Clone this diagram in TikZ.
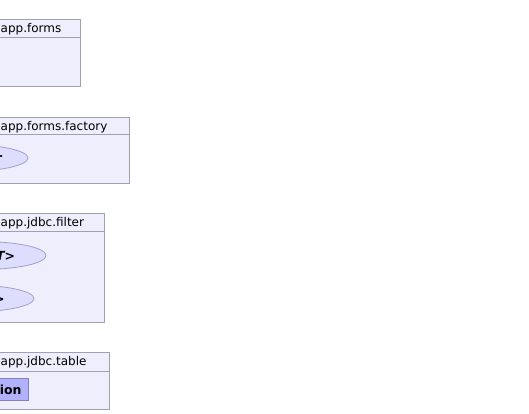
\documentclass[tikz,border=0pt]{standalone}
\usepackage{fontspec}
\setmainfont{DejaVu Sans}
\usetikzlibrary{shapes.geometric}
\definecolor{pkgfill}{RGB}{238,238,252}
\definecolor{pkgline}{RGB}{160,160,176}
\definecolor{usefill}{RGB}{221,221,253}
\definecolor{useline}{RGB}{160,160,200}
\definecolor{clsfill}{RGB}{178,178,252}
\definecolor{clsline}{RGB}{128,128,190}

\begin{document}
\begin{tikzpicture}[x=1pt,y=-1pt,
	pkg/.style={draw=pkgline,fill=pkgfill,line width=0.8pt,minimum width=240pt,anchor=north east,inner sep=0pt},
	pkgtitle/.style={anchor=base west,inner sep=0pt,font=\fontsize{12}{14}\selectfont},
	iface/.style={ellipse,draw=useline,fill=usefill,line width=0.8pt,inner sep=0pt,font=\bfseries\fontsize{12.5}{14}\selectfont},
	cls/.style={draw=clsline,fill=clsfill,line width=0.8pt,anchor=east,inner xsep=7pt,inner ysep=0pt,minimum height=22pt,font=\bfseries\fontsize{12.5}{14}\selectfont}]
	\useasboundingbox (0,0) rectangle (529,413);
	\clip (0,0) rectangle (529,413);

	% app.forms
	\node[pkg,minimum height=67pt] (forms) at (81,19) {};
	\draw[pkgline,line width=0.8pt] ([yshift=-18pt]forms.north west) -- ([yshift=-18pt]forms.north east);
	\node[pkgtitle] (formsT) at (0.5,32.5) {app.forms};

	% app.forms.factory
	\node[pkg,minimum height=66pt] (factory) at (130,117) {};
	\draw[pkgline,line width=0.8pt] ([yshift=-17pt]factory.north west) -- ([yshift=-17pt]factory.north east);
	\node[pkgtitle] (factoryT) at (0.5,130.5) {app.forms.factory};
	\node[iface,minimum width=138pt,minimum height=28pt] (builder) at (-41,158) {FormBuilder};

	% app.jdbc.filter
	\node[pkg,minimum height=109pt] (filter) at (105,213) {};
	\draw[pkgline,line width=0.8pt] ([yshift=-18pt]filter.north west) -- ([yshift=-18pt]filter.north east);
	\node[pkgtitle] (filterT) at (0.5,226.5) {app.jdbc.filter};
	\node[iface,minimum width=129pt,minimum height=28pt,font=\bfseries\itshape\fontsize{12.5}{14}\selectfont] (filt) at (-18.5,255.5) {Filter<T>};
	\node[iface,minimum width=128pt,minimum height=27pt] (chain) at (-30,298.5) {Chain<T>};

	% app.jdbc.table
	\node[pkg,minimum height=57pt] (table) at (110,352) {};
	\draw[pkgline,line width=0.8pt] ([yshift=-19pt]table.north west) -- ([yshift=-19pt]table.north east);
	\node[pkgtitle] (tableT) at (0.5,365.5) {app.jdbc.table};
	\node[cls] (conn) at (29,389.5) {Connection};
\end{tikzpicture}
\end{document}
